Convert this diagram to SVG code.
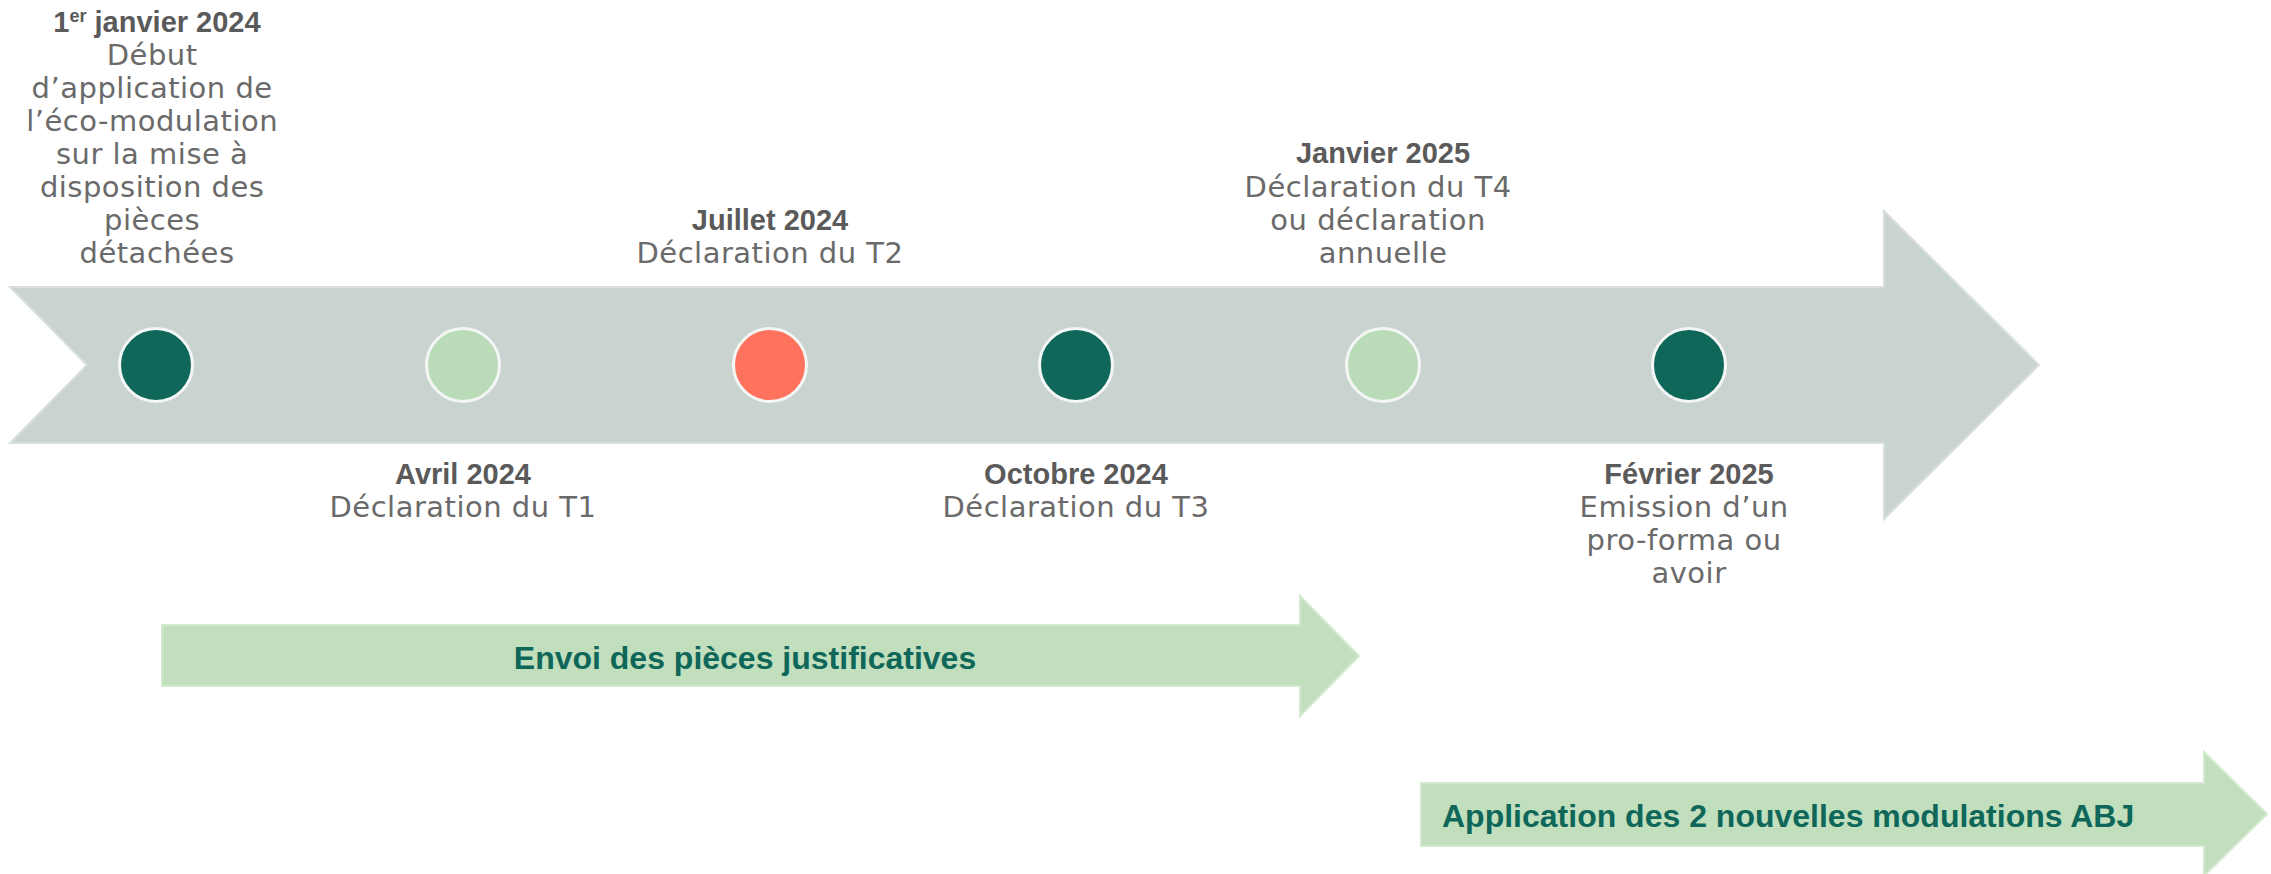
<svg xmlns="http://www.w3.org/2000/svg" width="2271" height="874" viewBox="0 0 2271 874">
<style>
.bg{fill:#ffffff}
.track{fill:#C9D3D0;stroke:#D8DFDD;stroke-width:2}
.band{fill:#C1DFBC;stroke:#D3E9CF;stroke-width:2}
.dot{stroke:#F4F6F5;stroke-width:3}
.dark{fill:#0F675A}
.light{fill:#B9DBB8}
.coral{fill:#FF725E}
.hd{font-family:"Liberation Sans",Arial,sans-serif;font-weight:bold;font-size:29px;fill:#5A5A5A;text-anchor:middle}
.bd{font-family:"DejaVu Sans","Liberation Sans",sans-serif;font-size:29px;letter-spacing:0.5px;fill:#6A6A6A;text-anchor:middle}
.bl{font-family:"Liberation Sans",Arial,sans-serif;font-weight:bold;font-size:32px;fill:#0F675A}
</style>
<rect class="bg" x="0" y="0" width="2271" height="874"/>

<g id="timeline">
  <polygon class="track" points="10,287 1884,287 1884,211 2039,365 1884,519 1884,443 10,443 87,365"/>
</g>

<g id="m1">
  <circle class="dot dark" cx="156" cy="365" r="36.5"/>
  <text class="hd" x="157" y="32">1<tspan font-size="18" dy="-10">er</tspan><tspan dy="10"> janvier 2024</tspan></text>
  <text class="bd">
    <tspan x="157" y="65">Début</tspan>
    <tspan x="157" y="98">d’application de</tspan>
    <tspan x="157" y="131">l’éco-modulation</tspan>
    <tspan x="157" y="164">sur la mise à</tspan>
    <tspan x="157" y="197">disposition des</tspan>
    <tspan x="157" y="230">pièces</tspan>
    <tspan x="157" y="263">détachées</tspan>
  </text>
</g>

<g id="m2">
  <circle class="dot light" cx="463" cy="365" r="36.5"/>
  <text class="hd" x="463" y="484">Avril 2024</text>
  <text class="bd" x="463" y="517">Déclaration du T1</text>
</g>

<g id="m3">
  <circle class="dot coral" cx="770" cy="365" r="36.5"/>
  <text class="hd" x="770" y="230">Juillet 2024</text>
  <text class="bd" x="770" y="263">Déclaration du T2</text>
</g>

<g id="m4">
  <circle class="dot dark" cx="1076" cy="365" r="36.5"/>
  <text class="hd" x="1076" y="484">Octobre 2024</text>
  <text class="bd" x="1076" y="517">Déclaration du T3</text>
</g>

<g id="m5">
  <circle class="dot light" cx="1383" cy="365" r="36.5"/>
  <text class="hd" x="1383" y="163">Janvier 2025</text>
  <text class="bd">
    <tspan x="1383" y="197">Déclaration du T4</tspan>
    <tspan x="1383" y="230">ou déclaration</tspan>
    <tspan x="1383" y="263">annuelle</tspan>
  </text>
</g>

<g id="m6">
  <circle class="dot dark" cx="1689" cy="365" r="36.5"/>
  <text class="hd" x="1689" y="484">Février 2025</text>
  <text class="bd">
    <tspan x="1689" y="517">Emission d’un</tspan>
    <tspan x="1689" y="550">pro-forma ou</tspan>
    <tspan x="1689" y="583">avoir</tspan>
  </text>
</g>

<g id="envoi">
  <polygon class="band" points="162,625 1300,625 1300,596 1359,656 1300,716 1300,686 162,686"/>
  <text class="bl" x="745" y="669" font-size="33" text-anchor="middle">Envoi des pièces justificatives</text>
</g>

<g id="application">
  <polygon class="band" points="1421,783 2204,783 2204,752 2267,814 2204,876 2204,846 1421,846"/>
  <text class="bl" x="1442" y="827" font-size="31">Application des 2 nouvelles modulations ABJ</text>
</g>

<g id="connectors"></g>
</svg>
